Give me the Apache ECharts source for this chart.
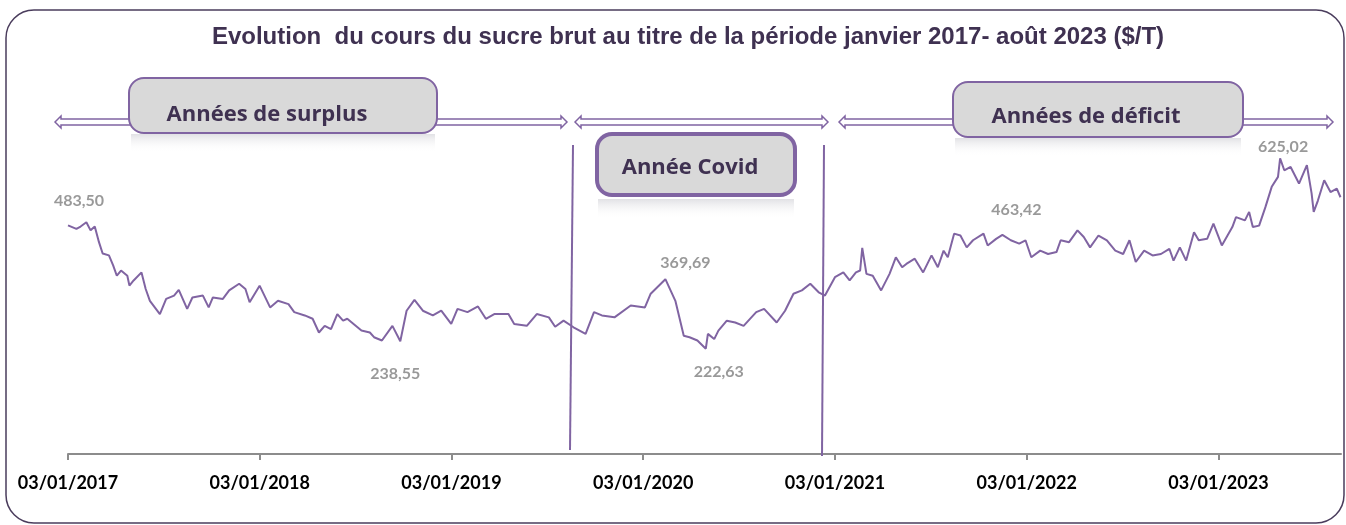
<!DOCTYPE html>
<html>
<head>
<meta charset="utf-8">
<script src="https://cdn.jsdelivr.net/npm/echarts/dist/echarts.min.js"></script>
<style>
html,body{margin:0;padding:0;background:#fff;}
#chart{width:1346px;height:525px;}
</style>
</head>
<body>
<div id="chart"></div>
<script>
// ---- Data ----
const dates = [
'2017-01-03','2017-01-19','2017-01-27','2017-02-07','2017-02-15','2017-02-23','2017-03-03','2017-03-10','2017-03-22','2017-03-30',
'2017-04-06','2017-04-14','2017-04-26','2017-04-30','2017-05-08','2017-05-23','2017-05-31','2017-06-08','2017-06-27','2017-07-09',
'2017-07-24','2017-08-02','2017-08-18','2017-08-28','2017-09-17','2017-09-28','2017-10-06','2017-10-25','2017-11-06','2017-11-25',
'2017-12-07','2017-12-15','2018-01-03','2018-01-23','2018-02-07','2018-02-27','2018-03-10','2018-03-30','2018-04-14','2018-04-26',
'2018-05-07','2018-05-19','2018-05-31','2018-06-11','2018-06-19','2018-07-01','2018-07-16','2018-08-01','2018-08-09','2018-08-24',
'2018-09-13','2018-09-28','2018-10-10','2018-10-25','2018-11-10','2018-11-29','2018-12-15','2019-01-03','2019-01-15','2019-02-03',
'2019-02-23','2019-03-10','2019-03-26','2019-04-22','2019-05-03','2019-05-27','2019-06-15','2019-07-08','2019-07-20','2019-08-05',
'2019-08-24','2019-09-16','2019-10-02','2019-10-17','2019-11-10','2019-12-11','2020-01-07','2020-01-18','2020-02-15','2020-03-05',
'2020-03-21','2020-04-01','2020-04-16','2020-05-02','2020-05-06','2020-05-18','2020-05-26','2020-06-11','2020-06-27','2020-07-13',
'2020-08-06','2020-08-21','2020-09-14','2020-09-30','2020-10-16','2020-11-01','2020-11-17','2020-12-03','2020-12-15','2021-01-03',
'2021-01-19','2021-01-31','2021-02-12','2021-02-20','2021-02-24','2021-03-04','2021-03-16','2021-04-01','2021-04-17','2021-04-29',
'2021-05-11','2021-05-19','2021-06-04','2021-06-20','2021-07-06','2021-07-18','2021-07-29','2021-08-06','2021-08-18','2021-08-30',
'2021-09-11','2021-09-23','2021-10-13','2021-10-21','2021-11-06','2021-11-18','2021-12-04','2021-12-20','2022-01-01','2022-01-12',
'2022-01-29','2022-02-13','2022-03-01','2022-03-09','2022-03-25','2022-04-10','2022-04-22','2022-05-04','2022-05-20','2022-06-05',
'2022-06-21','2022-07-06','2022-07-18','2022-07-30','2022-08-15','2022-08-31','2022-09-16','2022-10-02','2022-10-10','2022-10-22',
'2022-11-03','2022-11-18','2022-11-27','2022-12-13','2022-12-25','2023-01-10','2023-01-30','2023-02-06','2023-02-23','2023-03-03',
'2023-03-10','2023-03-22','2023-04-03','2023-04-15','2023-04-27','2023-05-01','2023-05-09','2023-05-21','2023-06-06','2023-06-21',
'2023-06-30','2023-07-04','2023-07-12','2023-07-24','2023-08-05','2023-08-17','2023-08-24'
];
const prices = [
483.5,476,481,490,473,481,448,424,420,399,
377,388,377,356,367,384,349,324,296,328,
335,347,307,331,335,310,331,328,346,360,
349,321,356,310,324,317,300,293,286,257,
271,264,296,282,286,275,261,257,247,240,
271,238.55,303,326,303,293,303,275,307,300,
312,286,296,296,275,271,296,289,269,282,
268,254,300,293,289,314,310,339,369.69,324,
250,247,240,222.63,254,243,261,282,278,271,
300,307,278,303,339,346,360,342,335,374,
384,367,384,388,436,381,377,346,381,416,
395,402,413,384,420,395,430,416,466,462,
437,452,466,441,455,463.42,452,445,452,416,
430,423,427,452,448,473,459,437,462,452,
430,423,452,406,430,420,423,434,409,437,
409,469,452,455,487,441,480,501,494,512,
480,483,522,565,586,625.02,600,607,572,611,
551,512,536,579,554,561,543
];
// Labelled points
const labelDates  = ['2017-01-03','2018-09-28','2020-02-15','2020-05-02','2021-11-18','2023-05-01'];
const labelValues = [483.50, 238.55, 369.69, 222.63, 463.42, 625.02];
const labelOffsets = [[11,-25],[-5,33],[20,-16],[13,23],[14,-25],[3,-12]];

const title = 'Evolution  du cours du sucre brut au titre de la période janvier 2017- août 2023 ($/T)';
const boxTexts = ['Années de surplus', 'Année Covid', 'Années de déficit'];

// ---- helpers ----
const ORIGIN = Date.UTC(2017,0,3);
const DAY = 86400000;
function dayOf(s){ const p = s.split('-').map(Number); return (Date.UTC(p[0],p[1]-1,p[2]) - ORIGIN)/DAY; }
function fmtDay(v){
  const t = new Date(ORIGIN + Math.floor(v + 1e-6)*DAY);
  const dd = String(t.getUTCDate()).padStart(2,'0');
  const mm = String(t.getUTCMonth()+1).padStart(2,'0');
  return dd + '/' + mm + '/' + t.getUTCFullYear();
}
function fr(v){ return v.toFixed(2).replace('.', ','); }

const lineData = dates.map((d,i)=>[dayOf(d), prices[i]]);
const labelData = labelDates.map((d,i)=>({
  value:[dayOf(d), labelValues[i]],
  label:{offset: labelOffsets[i]}
}));

function dblArrow(x1,x2,y){
  const sh=3, hh=6, hl=6;
  return [[x1,y],[x1+hl,y-hh],[x1+hl,y-sh],[x2-hl,y-sh],[x2-hl,y-hh],[x2,y],
          [x2-hl,y+hh],[x2-hl,y+sh],[x1+hl,y+sh],[x1+hl,y+hh]];
}
const PURPLE = '#8064a2';
const DARK = '#3f3151';
function reflection(x,y,w,h){
  return {type:'rect', z:5, shape:{x:x,y:y,width:w,height:h},
    style:{fill:new echarts.graphic.LinearGradient(0,0,0,1,[
      {offset:0,color:'rgba(170,170,180,0.35)'},{offset:1,color:'rgba(255,255,255,0)'}])}};
}

const chart = echarts.init(document.getElementById('chart'), null, {renderer:'canvas'});
chart.setOption({
  animation:false,
  backgroundColor:'#fff',
  grid:{left:68, right:5, top:123, bottom:71, containLabel:false, outerBoundsMode:'none'},
  xAxis:{
    type:'value', min:0, max:2425, interval:365.25,
    axisLine:{show:true, lineStyle:{color:'#8c8c8c', width:2}},
    axisTick:{show:true, length:6, lineStyle:{color:'#8c8c8c', width:2}},
    splitLine:{show:false},
    axisLabel:{formatter:fmtDay, showMaxLabel:false, fontFamily:'Lato', fontWeight:'bold', fontSize:18, color:'#000', margin:20}
  },
  yAxis:{type:'value', min:0, max:700, show:false, splitLine:{show:false}},
  series:[
    {type:'line', data:lineData, showSymbol:false, symbol:'none',
     lineStyle:{color:PURPLE, width:2}, z:3},
    {type:'scatter', data:labelData, symbolSize:0, z:4,
     label:{show:true, position:'inside', formatter:p=>fr(p.value[1]),
       fontFamily:'Lato', fontWeight:'bold', fontSize:16, color:'#7f7f7f'}}
  ],
  graphic:[
    {type:'rect', z:1, shape:{x:6,y:10,width:1338,height:513,r:28},
     style:{fill:'none', stroke:'#4a3c5c', lineWidth:1.5}},
    {type:'text', z:10, x:688, y:37, style:{text:title, font:'bold 24px "Liberation Sans"', fill:DARK, textAlign:'center', textVerticalAlign:'middle'}},
    {type:'polygon', z:6, shape:{points:dblArrow(55,567,122)}, style:{fill:'#fff', stroke:PURPLE, lineWidth:1.5}},
    {type:'polygon', z:6, shape:{points:dblArrow(575,828,122)}, style:{fill:'#fff', stroke:PURPLE, lineWidth:1.5}},
    {type:'polygon', z:6, shape:{points:dblArrow(839,1333,122)}, style:{fill:'#fff', stroke:PURPLE, lineWidth:1.5}},
    reflection(131,134,304,18),
    reflection(598,199,196,20),
    reflection(955,138,286,18),
    {type:'line', z:6, shape:{x1:573,y1:145,x2:570,y2:450}, style:{stroke:PURPLE, lineWidth:2}},
    {type:'line', z:6, shape:{x1:824,y1:145,x2:822,y2:456}, style:{stroke:PURPLE, lineWidth:2}},
    {type:'rect', z:8, shape:{x:129,y:78,width:308,height:55,r:15}, style:{fill:'#d9d9d9', stroke:PURPLE, lineWidth:2}},
    {type:'text', z:9, x:267, y:115, style:{text:boxTexts[0], font:'bold 22px "Open Sans"', fill:DARK, textAlign:'center', textVerticalAlign:'middle'}},
    {type:'rect', z:8, shape:{x:597,y:134,width:198,height:61,r:15}, style:{fill:'#d9d9d9', stroke:PURPLE, lineWidth:4}},
    {type:'text', z:9, x:690, y:168, style:{text:boxTexts[1], font:'bold 22px "Open Sans"', fill:DARK, textAlign:'center', textVerticalAlign:'middle'}},
    {type:'rect', z:8, shape:{x:953,y:82,width:290,height:55,r:15}, style:{fill:'#d9d9d9', stroke:PURPLE, lineWidth:2}},
    {type:'text', z:9, x:1086, y:117, style:{text:boxTexts[2], font:'bold 22px "Open Sans"', fill:DARK, textAlign:'center', textVerticalAlign:'middle'}}
  ]
});
</script>
</body>
</html>
